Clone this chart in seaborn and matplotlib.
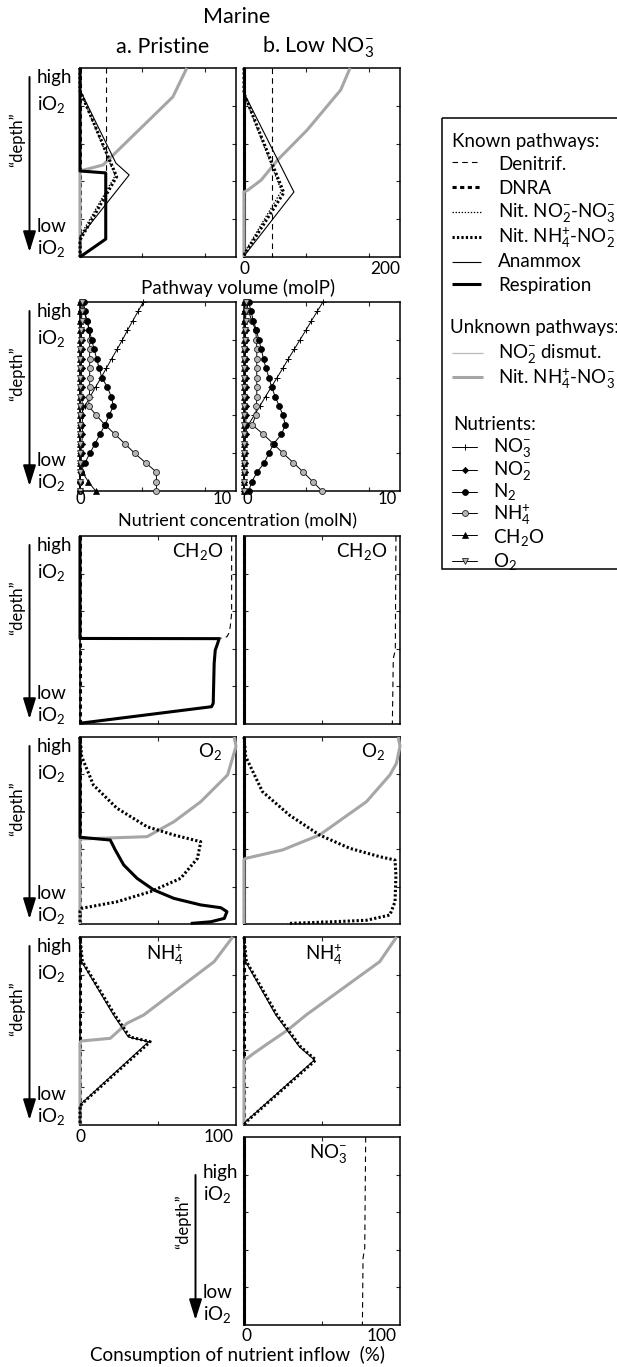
import numpy as np
import pandas as pd
import seaborn as sns
import matplotlib
matplotlib.use("Agg")
import matplotlib.pyplot as plt
from matplotlib.patches import Rectangle
from matplotlib.lines import Line2D

# ======================= DATA =======================
# depth coordinate: 0 = top ("high iO2"), 100 = bottom ("low iO2")
# ---- Row 1: pathway volume (molP), x range 0-200 ----
vol_a_denit_x = [34, 34, 33, 33, 0]
vol_a_denit_d = [0, 54.5, 55.5, 90.5, 100]
vol_a_nit23_x = [0, 0, 45, 0, 0]
vol_a_nit23_d = [0, 12, 57, 89, 100]
vol_a_nit42_x = [0, 0, 47, 0, 0]
vol_a_nit42_d = [0, 12, 57.5, 91, 100]
vol_a_anam_x = [0, 0, 46, 63, 0, 0]
vol_a_anam_d = [0, 11.6, 50.3, 56.6, 89.4, 100]
vol_a_resp_x = [0, 0, 33, 33, 0]
vol_a_resp_d = [0, 54.5, 55.5, 90.5, 100]
vol_a_nit43_x = [137, 119, 29.5, 0, 0]
vol_a_nit43_d = [0, 15.3, 51.3, 54.5, 100]

vol_b_denit_x = [36.5, 36.5]
vol_b_denit_d = [0, 100]
vol_b_nit23_x = [0, 0, 48, 0]
vol_b_nit23_d = [0, 14, 65, 98]
vol_b_nit42_x = [0, 0, 51, 0]
vol_b_nit42_d = [0, 13.5, 66, 99]
vol_b_anam_x = [0, 0, 64, 0]
vol_b_anam_d = [0, 13.2, 65.6, 99.5]
vol_b_nit43_x = [136, 124, 81, 43, 22, 5, 0, 0]
vol_b_nit43_d = [0, 11.6, 32.8, 48.7, 59.3, 64.6, 65.6, 100]

# ---- Row 2: nutrient concentration (molN) at 21 depth levels ----
nut_depth = [0, 5, 10, 15, 20, 25, 30, 35, 40, 45, 50, 55, 60, 65, 70, 75, 80, 85, 90, 95, 100]
nut_a_no3 = [4.06, 3.72, 3.38, 3.04, 2.72, 2.38, 2.03, 1.69, 1.35, 1.0, 0.66, 0.32, 0.05, 0, 0, 0, 0, 0, 0, 0, 0]
nut_a_no2 = [0.05, 0.05, 0.08, 0.1, 0.1, 0.1, 0.1, 0.1, 0.1, 0.1, 0.12, 0.15, 0.15, 0.15, 0.15, 0.12, 0.1, 0.08, 0.05, 0.02, 0]
nut_a_n2 = [0.25, 0.3, 0.45, 0.6, 0.75, 0.9, 1.07, 1.22, 1.4, 1.75, 2.0, 2.14, 1.87, 1.6, 1.28, 0.96, 0.64, 0.32, 0.05, 0, 0]
nut_a_nh4 = [0.15, 0.25, 0.45, 0.6, 0.62, 0.62, 0.62, 0.62, 0.62, 0.62, 0.6, 0.55, 1.05, 1.6, 2.24, 2.88, 3.5, 4.2, 4.9, 4.9, 4.9]
nut_a_ch2o = [0, 0, 0, 0, 0, 0, 0, 0, 0, 0, 0, 0, 0, 0, 0, 0, 0, 0, 0.15, 0.53, 1.0]
nut_a_o2 = [0.15, 0.12, 0.1, 0.08, 0.05, 0.03, 0.02, 0.01, 0, 0, 0, 0, 0, 0, 0, 0, 0, 0, 0, 0, 0]

nut_b_no3 = [5.06, 4.69, 4.32, 3.96, 3.59, 3.22, 2.85, 2.49, 2.12, 1.75, 1.38, 1.02, 0.65, 0.28, 0.05, 0, 0, 0, 0, 0, 0]
nut_b_no2 = [0.05, 0.05, 0.08, 0.1, 0.1, 0.1, 0.1, 0.1, 0.1, 0.1, 0.1, 0.1, 0.12, 0.12, 0.1, 0.08, 0.06, 0.05, 0.04, 0.02, 0]
nut_b_n2 = [0.3, 0.45, 0.6, 0.8, 0.95, 1.1, 1.25, 1.4, 1.6, 1.77, 2.0, 2.25, 2.5, 2.65, 2.4, 1.9, 1.6, 1.3, 0.85, 0.5, 0.3]
nut_b_nh4 = [0.15, 0.3, 0.5, 0.75, 0.8, 0.82, 0.82, 0.82, 0.82, 0.82, 0.82, 0.8, 0.75, 0.53, 1.24, 1.88, 2.5, 3.16, 3.8, 4.4, 5.0]
nut_b_ch2o = [0, 0, 0, 0, 0, 0, 0, 0, 0, 0, 0, 0, 0, 0, 0, 0, 0, 0, 0, 0, 0]
nut_b_o2 = [0.15, 0.12, 0.1, 0.08, 0.05, 0.03, 0.02, 0.01, 0, 0, 0, 0, 0, 0, 0, 0, 0, 0, 0, 0, 0]

# ---- Row 3: consumption of CH2O inflow (%) ----
ch2o_a_denit_x = [97.2, 97.2, 96.3, 95.3, 94.2, 89.2, 0]
ch2o_a_denit_d = [0, 41.2, 48.3, 51.9, 53.6, 54.5, 54.7]
ch2o_a_resp_x = [0, 0, 89.2, 88.2, 86.7, 86.0, 85.4, 84.3, 0]
ch2o_a_resp_d = [0, 54.5, 54.6, 57.2, 60.7, 67.8, 89.0, 90.8, 99.6]
ch2o_b_denit_x = [97.4, 97.0, 95.7, 95.1]
ch2o_b_denit_d = [0, 60.7, 65.1, 100]

# ---- Row 4: consumption of O2 inflow (%) ----
o2_a_nit43_x = [98.9, 100, 96.8, 94.6, 77.4, 60.2, 43.0, 1.0, 0, 0]
o2_a_nit43_d = [0, 5, 14.1, 20.3, 34.6, 45.3, 53.3, 54.5, 55, 100]
o2_a_nit42_x = [0, 1.1, 8.6, 23.7, 43.0, 60.2, 77.4, 75.3, 64.5, 45.2, 23.7, 1.1, 0, 0]
o2_a_nit42_d = [0, 10.5, 25.7, 38.1, 48.0, 52.4, 56.0, 64.9, 75.6, 82.7, 88.1, 91.6, 93, 100]
o2_a_resp_x = [0, 0, 19.4, 22.6, 28.0, 36.6, 47.3, 60.2, 77.4, 90.3, 94.2, 92.5, 83.9, 71.0]
o2_a_resp_d = [0, 53.6, 55.1, 60.4, 68.4, 75.6, 81.8, 86.3, 89.8, 91.3, 93.4, 97.0, 98.8, 99.7]

o2_b_nit43_x = [98.9, 100, 97.7, 93.5, 78.5, 48.4, 24.7, 1.1, 0, 0]
o2_b_nit43_d = [0, 5, 14.1, 20.3, 34.6, 52.4, 60.4, 64.9, 65.5, 100]
o2_b_nit42_x = [0, 1.1, 11.8, 29.0, 48.4, 67.7, 87.0, 96.8, 97.4, 96.8, 93.5, 78.5, 57.0, 28.0]
o2_b_nit42_d = [0, 10.5, 29.2, 41.7, 52.4, 59.5, 64.0, 65.8, 73.8, 88.1, 95.2, 98.0, 98.8, 99.7]

# ---- Row 5: consumption of NH4+ inflow (%) ----
nh4_a_nit43_x = [97.9, 86.0, 40.8, 30.1, 19.4, 1.1, 0, 0]
nh4_a_nit43_d = [0, 13.1, 41.5, 45.9, 53.9, 55.3, 56, 100]
nh4_a_anam_x = [0, 1, 21.5, 31, 44, 1, 0, 0]
nh4_a_anam_d = [0, 13, 41.5, 53.2, 55.7, 88.5, 90, 100]
nh4_a_nit42_x = [0, 1.5, 22.3, 32, 45, 1.5, 0, 0]
nh4_a_nit42_d = [0, 13, 41.5, 53.2, 55.7, 88.5, 90, 100]

nh4_b_nit43_x = [97.8, 87.0, 39.8, 28.0, 14.0, 5.4, 2.1, 0, 0]
nh4_b_nit43_d = [0, 13.1, 41.5, 49.5, 57.4, 62.4, 64.5, 65.5, 100]
nh4_b_anam_x = [0, 1, 20.4, 35.5, 45.2, 1.1, 0]
nh4_b_anam_d = [0, 13, 41.5, 58.4, 65.4, 98.2, 100]
nh4_b_nit42_x = [0, 1.5, 21.2, 36.3, 46, 1.6, 0]
nh4_b_nit42_d = [0, 13, 41.5, 58.4, 65.4, 98.2, 100]

# ---- Row 6: consumption of NO3- inflow (%) (Low NO3- only) ----
no3_b_denit_x = [78.0, 77.4, 76.3, 75.9]
no3_b_denit_d = [0, 59.0, 64.5, 100]

zero_x = [0, 0]
zero_d = [0, 100]

# text
col_titles = ["a. Pristine", "b. Low NO$_3^{-}$"]
main_title = "Marine"
known_labels = ["Denitrif.", "DNRA", "Nit. NO$_2^{-}$-NO$_3^{-}$", "Nit. NH$_4^{+}$-NO$_2^{-}$", "Anammox", "Respiration"]
unknown_labels = ["NO$_2^{-}$ dismut.", "Nit. NH$_4^{+}$-NO$_3^{-}$"]
nutrient_labels = ["NO$_3^{-}$", "NO$_2^{-}$", "N$_2$", "NH$_4^{+}$", "CH$_2$O", "O$_2$"]

# ======================= STYLE =======================
sns.set_style("white")
FONT = ["Lato", "DejaVu Sans"]
plt.rcParams["font.family"] = FONT
plt.rcParams["mathtext.fontset"] = "custom"
plt.rcParams["mathtext.rm"] = "Lato"
plt.rcParams["mathtext.it"] = "Lato"
plt.rcParams["mathtext.default"] = "regular"
plt.rcParams["lines.scale_dashes"] = False

GRAY_THICK = "#a6a6a6"
GRAY_THIN = "#b8b8b8"
STY = {
    "denit": dict(color="k", lw=0.8, ls=(0, (4, 3))),
    "dnra": dict(color="k", lw=2.2, ls=(0, (3, 2.5))),
    "nit23": dict(color="k", lw=0.9, ls=(0, (1, 1.2))),
    "nit42": dict(color="k", lw=2.2, ls=(0, (1.6, 1.6))),
    "anam": dict(color="k", lw=0.8, ls="-"),
    "resp": dict(color="k", lw=2.2, ls="-"),
    "dism": dict(color=GRAY_THIN, lw=0.9, ls="-"),
    "nit43": dict(color=GRAY_THICK, lw=2.2, ls="-"),
}
NUT = {
    "no3": dict(marker="+", ms=4.5, mfc="k", mec="k", mew=0.7),
    "no2": dict(marker="D", ms=3.2, mfc="k", mec="k", mew=0.5),
    "n2": dict(marker="o", ms=4.3, mfc="k", mec="k", mew=0.5),
    "nh4": dict(marker="o", ms=4.3, mfc="#b5b5b5", mec="#222222", mew=0.6),
    "ch2o": dict(marker="^", ms=4.3, mfc="k", mec="k", mew=0.5),
    "o2": dict(marker="v", ms=4.3, mfc="#b5b5b5", mec="#222222", mew=0.6),
}

W, H = 617, 1367
fig = plt.figure(figsize=(W / 100, H / 100), dpi=100)


def add_ax(x0, y0, x1, y1):
    return fig.add_axes([x0 / W, 1 - y1 / H, (x1 - x0) / W, (y1 - y0) / H])


def style(ax, xmax, xticks):
    ax.set_xlim(0, xmax)
    ax.set_ylim(100, 0)
    ax.set_xticks(xticks)
    ax.set_yticks([20, 40, 60, 80])
    ax.tick_params(direction="in", length=3, width=0.8, top=True, right=True,
                   bottom=True, left=True, labelbottom=False, labelleft=False)
    for s in ax.spines.values():
        s.set_linewidth(1.1)
        s.set_color("k")
        s.set_visible(True)
    ax.set_xlabel("")
    ax.set_ylabel("")


def draw(ax, x, d, key, z=3):
    s = STY[key]
    sns.lineplot(x=x, y=d, ax=ax, sort=False, estimator=None, color=s["color"],
                 linewidth=s["lw"], linestyle=s["ls"], clip_on=False, zorder=z,
                 solid_capstyle="butt", dash_capstyle="butt")


def draw_nut(ax, x, key):
    m = NUT[key]
    sns.lineplot(x=x, y=nut_depth, ax=ax, sort=False, estimator=None, color="k",
                 linewidth=0.7, marker=m["marker"], markersize=m["ms"],
                 markerfacecolor=m["mfc"], markeredgecolor=m["mec"],
                 markeredgewidth=m["mew"], clip_on=False, zorder=4)


def zeros(ax):
    draw(ax, zero_x, zero_d, "dism", z=2)
    draw(ax, zero_x, zero_d, "dnra", z=2)


XA = (80, 236)
XB = (244, 400)

# ---------- Row 1 ----------
ax = add_ax(XA[0], 68, XA[1], 257)
zeros(ax)
draw(ax, vol_a_nit43_x, vol_a_nit43_d, "nit43")
draw(ax, vol_a_denit_x, vol_a_denit_d, "denit")
draw(ax, vol_a_nit23_x, vol_a_nit23_d, "nit23")
draw(ax, vol_a_nit42_x, vol_a_nit42_d, "nit42")
draw(ax, vol_a_anam_x, vol_a_anam_d, "anam")
draw(ax, vol_a_resp_x, vol_a_resp_d, "resp")
style(ax, 200, [80, 160])

ax = add_ax(XB[0], 68, XB[1], 257)
zeros(ax)
draw(ax, zero_x, zero_d, "resp", z=2)
draw(ax, vol_b_nit43_x, vol_b_nit43_d, "nit43")
draw(ax, vol_b_denit_x, vol_b_denit_d, "denit")
draw(ax, vol_b_nit23_x, vol_b_nit23_d, "nit23")
draw(ax, vol_b_nit42_x, vol_b_nit42_d, "nit42")
draw(ax, vol_b_anam_x, vol_b_anam_d, "anam")
style(ax, 200, [80, 160])

# ---------- Row 2 ----------
for (x0, x1), series in [
    (XA, [("no3", nut_a_no3), ("nh4", nut_a_nh4), ("n2", nut_a_n2),
          ("no2", nut_a_no2), ("ch2o", nut_a_ch2o), ("o2", nut_a_o2)]),
    (XB, [("no3", nut_b_no3), ("nh4", nut_b_nh4), ("n2", nut_b_n2),
          ("no2", nut_b_no2), ("ch2o", nut_b_ch2o), ("o2", nut_b_o2)]),
]:
    ax = add_ax(x0, 302, x1, 491)
    for key, vals in series:
        draw_nut(ax, vals, key)
    style(ax, 10, [4, 8])

# ---------- Row 3 ----------
ax = add_ax(XA[0], 536, XA[1], 724)
zeros(ax)
draw(ax, ch2o_a_denit_x, ch2o_a_denit_d, "denit")
draw(ax, ch2o_a_resp_x, ch2o_a_resp_d, "resp")
style(ax, 100, [50])
ax = add_ax(XB[0], 536, XB[1], 724)
zeros(ax)
draw(ax, zero_x, zero_d, "resp", z=2)
draw(ax, ch2o_b_denit_x, ch2o_b_denit_d, "denit")
style(ax, 100, [50])

# ---------- Row 4 ----------
ax = add_ax(XA[0], 737, XA[1], 924)
zeros(ax)
draw(ax, o2_a_nit43_x, o2_a_nit43_d, "nit43")
draw(ax, o2_a_nit42_x, o2_a_nit42_d, "nit42")
draw(ax, o2_a_resp_x, o2_a_resp_d, "resp")
style(ax, 100, [50])
ax = add_ax(XB[0], 737, XB[1], 924)
zeros(ax)
draw(ax, zero_x, zero_d, "resp", z=2)
draw(ax, o2_b_nit43_x, o2_b_nit43_d, "nit43")
draw(ax, o2_b_nit42_x, o2_b_nit42_d, "nit42")
style(ax, 100, [50])

# ---------- Row 5 ----------
ax = add_ax(XA[0], 937, XA[1], 1125)
zeros(ax)
draw(ax, nh4_a_nit43_x, nh4_a_nit43_d, "nit43")
draw(ax, nh4_a_nit42_x, nh4_a_nit42_d, "nit42")
draw(ax, nh4_a_anam_x, nh4_a_anam_d, "anam")
style(ax, 100, [50])
ax = add_ax(XB[0], 937, XB[1], 1125)
zeros(ax)
draw(ax, nh4_b_nit43_x, nh4_b_nit43_d, "nit43")
draw(ax, nh4_b_nit42_x, nh4_b_nit42_d, "nit42")
draw(ax, nh4_b_anam_x, nh4_b_anam_d, "anam")
style(ax, 100, [50])

# ---------- Row 6 ----------
ax = add_ax(XB[0], 1137, XB[1], 1325)
zeros(ax)
draw(ax, zero_x, zero_d, "resp", z=2)
draw(ax, no3_b_denit_x, no3_b_denit_d, "denit")
style(ax, 100, [50])

# ======================= OVERLAY TEXT =======================
ov = fig.add_axes([0, 0, 1, 1])
ov.set_xlim(0, W)
ov.set_ylim(H, 0)
ov.axis("off")
ov.patch.set_visible(False)


def T(x, y, s, size=13.5, ha="left", va="baseline", **kw):
    ov.text(x, y, s, fontsize=size, ha=ha, va=va, color="k", **kw)


T(237, 23, main_title, size=15.5, ha="center")
T(163, 53, col_titles[0], size=15.5, ha="center")
T(318, 53, col_titles[1], size=15.5, ha="center")

T(238, 294, "Pathway volume (molP)", ha="center")
T(238, 526, "Nutrient concentration (molN)", size=13, ha="center")
T(238, 1361, "Consumption of nutrient inflow  (%)", ha="center")

# tick labels
TS = 12.5
T(XB[0], 274, "0", size=TS, ha="center")
T(XB[1], 274, "200", size=TS, ha="right")
T(XA[0], 504, "0", size=12, ha="center")
T(XA[1] - 4, 504, "10", size=12, ha="right")
T(XB[0] + 3, 504, "0", size=12, ha="center")
T(XB[1] - 3, 504, "10", size=12, ha="right")
T(XA[0], 1142, "0", size=TS, ha="center")
T(XA[1] - 2, 1142, "100", size=TS, ha="right")
T(XB[0] + 2, 1341, "0", size=TS, ha="center")
T(XB[1] - 3, 1341, "100", size=TS, ha="right")

# in-panel labels
T(198, 557, "CH$_2$O", ha="center")
T(362, 557, "CH$_2$O", ha="center")
T(210, 757, "O$_2$", ha="center")
T(373, 757, "O$_2$", ha="center")
T(165, 960, "NH$_4^{+}$", ha="center")
T(324, 960, "NH$_4^{+}$", ha="center")
T(328, 1158, "NO$_3^{-}$", ha="center")


def depth_axis(xa, xt, top, bot, y_high, y_io1, y_low, y_io2, y_depth, xd):
    ov.annotate("", xy=(xa, bot), xytext=(xa, top),
                arrowprops=dict(arrowstyle="-|>,head_length=0.9,head_width=0.28",
                                lw=1.4, color="k", mutation_scale=14,
                                shrinkA=0, shrinkB=0))
    T(xt, y_high, "high")
    T(xt, y_io1, "iO$_2$")
    T(xt, y_low, "low")
    T(xt, y_io2, "iO$_2$")
    T(xd, y_depth, "\u201cdepth\u201d", size=12, ha="center", va="center", rotation=90)


for (tp, bt) in [(68, 257), (302, 491), (536, 724), (737, 924), (937, 1125)]:
    depth_axis(29.5, 37, tp + 9, bt - 5, tp + 15, tp + 42, bt - 25, bt - 3, tp + 72, 17)
depth_axis(195.5, 203, 1175, 1320, 1178, 1200, 1298, 1320, 1222, 183)

# ======================= LEGEND =======================
ov.add_patch(Rectangle((442, 118), 220, 451, fill=False, lw=1.1, ec="k", clip_on=False))
T(452, 147, "Known pathways:")
known_keys = ["denit", "dnra", "nit23", "nit42", "anam", "resp"]
known_line_y = [162, 187, 212, 237, 262, 284]
known_text_y = [170, 194, 217, 243, 267, 291]
for k, ly, ty, lab in zip(known_keys, known_line_y, known_text_y, known_labels):
    s = STY[k]
    ov.add_line(Line2D([452, 481], [ly, ly], color=s["color"], lw=s["lw"], ls=s["ls"],
                       solid_capstyle="butt", dash_capstyle="butt"))
    T(498, ty, lab)
T(450, 333, "Unknown pathways:", clip_on=False)
for k, ly, ty, lab in zip(["dism", "nit43"], [353, 377], [358, 384], unknown_labels):
    s = STY[k]
    ov.add_line(Line2D([452, 483], [ly, ly], color=s["color"], lw=s["lw"], ls=s["ls"],
                       solid_capstyle="butt"))
    T(498, ty, lab)
T(453, 430, "Nutrients:")
nut_keys = ["no3", "no2", "n2", "nh4", "ch2o", "o2"]
nut_line_y = [447, 470, 492, 513, 535, 561]
nut_text_y = [452, 475, 497, 520, 543, 567]
for k, ly, ty, lab in zip(nut_keys, nut_line_y, nut_text_y, nutrient_labels):
    m = NUT[k]
    ov.add_line(Line2D([452, 477], [ly, ly], color="k", lw=0.7))
    ov.add_line(Line2D([464.5], [ly], marker=m["marker"], ms=m["ms"], mfc=m["mfc"],
                       mec=m["mec"], mew=m["mew"], ls="none"))
    T(493, ty, lab)

fig.savefig("out.png", dpi=100)
